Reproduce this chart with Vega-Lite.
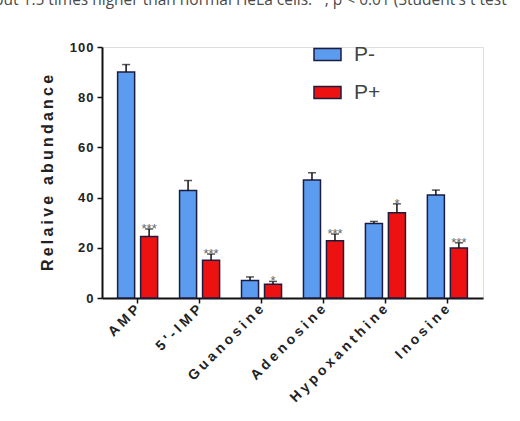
{
  "$schema": "https://vega.github.io/schema/vega-lite/v6.json",
  "autosize": "none",
  "width": 381,
  "height": 251,
  "padding": {"left": 102, "top": 47, "right": 37, "bottom": 123},
  "background": "white",
  "title": {
    "text": "but 1.5 times higher than normal HeLa cells.  *, p < 0.01 (Student's t test",
    "anchor": "start",
    "frame": "group",
    "dx": -108,
    "offset": 32,
    "font": "Open Sans",
    "fontSize": 15.5,
    "fontWeight": "normal",
    "color": "#4a4a4a"
  },
  "data": {
    "values": [
      {"metabolite": "AMP", "group": "P-", "value": 90, "err": 3, "sig": ""},
      {"metabolite": "AMP", "group": "P+", "value": 24.5, "err": 3, "sig": "***"},
      {"metabolite": "5'-IMP", "group": "P-", "value": 42.8, "err": 4, "sig": ""},
      {"metabolite": "5'-IMP", "group": "P+", "value": 15, "err": 2.5, "sig": "***"},
      {"metabolite": "Guanosine", "group": "P-", "value": 7, "err": 1.4, "sig": ""},
      {"metabolite": "Guanosine", "group": "P+", "value": 5.5, "err": 1.1, "sig": "*"},
      {"metabolite": "Adenosine", "group": "P-", "value": 47, "err": 2.9, "sig": ""},
      {"metabolite": "Adenosine", "group": "P+", "value": 22.8, "err": 2.7, "sig": "***"},
      {"metabolite": "Hypoxanthine", "group": "P-", "value": 29.7, "err": 0.8, "sig": ""},
      {"metabolite": "Hypoxanthine", "group": "P+", "value": 34, "err": 3.5, "sig": "*"},
      {"metabolite": "Inosine", "group": "P-", "value": 41, "err": 2, "sig": ""},
      {"metabolite": "Inosine", "group": "P+", "value": 19.9, "err": 2.1, "sig": "***"}
    ]
  },
  "encoding": {
    "x": {
      "field": "metabolite",
      "type": "nominal",
      "sort": null,
      "scale": {"paddingInner": 0.25, "paddingOuter": 0.2},
      "axis": {
        "title": null,
        "labelAngle": -45,
        "labelAlign": "right",
        "labelBaseline": "middle",
        "labelPadding": 4,
        "labelExpr": "join(split(datum.label, ''), '\u2005')",
        "labelFont": "Liberation Sans",
        "labelFontWeight": "bold",
        "labelFontSize": 14,
        "labelColor": "#222222",
        "domainColor": "#111111",
        "domainWidth": 2,
        "tickColor": "#111111",
        "tickWidth": 1.5,
        "tickSize": 5
      }
    },
    "xOffset": {
      "field": "group",
      "type": "nominal",
      "sort": ["P-", "P+"],
      "scale": {"paddingInner": 0.26, "paddingOuter": 0.14}
    }
  },
  "layer": [
    {
      "mark": {"type": "bar", "stroke": "#1c1c40", "strokeWidth": 1.5},
      "encoding": {
        "y": {
          "field": "value",
          "type": "quantitative",
          "scale": {"domain": [0, 100], "nice": false},
          "axis": {
            "title": "R\u2009e\u2009l\u2009a\u2009i\u2009v\u2009e\u2009 \u2009a\u2009b\u2009u\u2009n\u2009d\u2009a\u2009n\u2009c\u2009e",
            "titleFont": "Liberation Sans",
            "titleFontSize": 16,
            "titleFontWeight": "bold",
            "titleColor": "#222222",
            "titlePadding": 14,
            "values": [0, 20, 40, 60, 80, 100],
            "grid": false,
            "labelExpr": "join(split(datum.label, ''), '\u200a')",
            "labelFont": "Liberation Sans",
            "labelFontWeight": "bold",
            "labelFontSize": 13,
            "labelColor": "#222222",
            "labelPadding": 4,
            "domainColor": "#111111",
            "domainWidth": 2,
            "tickColor": "#111111",
            "tickWidth": 1.5,
            "tickSize": 5
          }
        },
        "color": {
          "field": "group",
          "type": "nominal",
          "sort": ["P-", "P+"],
          "scale": {"domain": ["P-", "P+"], "range": ["#5b9cf0", "#ee1111"]},
          "legend": {
            "title": null,
            "orient": "none",
            "legendX": 211,
            "legendY": -7,
            "symbolType": "M-1,-0.44L1,-0.44L1,0.44L-1,0.44Z",
            "symbolSize": 729,
            "symbolStrokeColor": "#1c1c40",
            "symbolStrokeWidth": 1.5,
            "symbolOpacity": 1,
            "labelFont": "Liberation Sans",
            "labelFontSize": 21,
            "labelColor": "#444444",
            "labelOffset": 12,
            "rowPadding": 13
          }
        }
      }
    },
    {
      "transform": [{"calculate": "datum.value + datum.err", "as": "hi"}],
      "mark": {"type": "rule", "color": "#111111", "strokeWidth": 1.5},
      "encoding": {
        "y": {"field": "value", "type": "quantitative"},
        "y2": {"field": "hi"}
      }
    },
    {
      "transform": [{"calculate": "datum.value + datum.err", "as": "hi"}],
      "mark": {"type": "tick", "color": "#111111", "thickness": 1.5, "size": 8, "orient": "horizontal"},
      "encoding": {
        "y": {"field": "hi", "type": "quantitative"}
      }
    },
    {
      "transform": [{"calculate": "datum.value + datum.err", "as": "hi"}],
      "mark": {"type": "text", "color": "#666666", "fontSize": 13, "baseline": "alphabetic", "dy": 4, "font": "Liberation Sans"},
      "encoding": {
        "y": {"field": "hi", "type": "quantitative"},
        "text": {"field": "sig"}
      }
    }
  ]
}
